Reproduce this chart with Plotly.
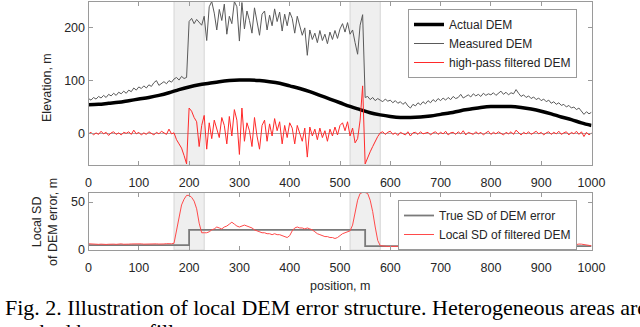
import plotly.graph_objects as go

W, H = 640, 327

# ---------------- data ----------------
x_actual = list(range(0, 1001, 20))
actual_dem = [54, 55, 57, 59, 62, 65, 68, 72, 77, 83, 88, 92, 95, 98, 100, 101, 101, 100, 98, 95,
              90, 85, 79, 72, 65, 58, 51, 45, 39, 35, 32, 30, 30, 31, 33, 36, 39, 43, 46, 49,
              51, 51, 51, 49, 46, 42, 37, 31, 26, 20, 15]

x5 = list(range(0, 1001, 5))
measured_dem = [
    66, 63, 68, 65, 70, 67, 72, 68, 74, 71, 76, 72, 78, 75, 80, 76, 82, 79, 86, 82,
    88, 85, 90, 86, 92, 89, 96, 100, 91, 95, 98, 94, 100, 97, 103, 106, 101, 108, 104, 106,
    212, 218, 208, 216, 211, 205, 222, 176, 240, 250, 228, 196, 235, 214, 245, 188, 222, 208, 250, 240,
    175, 248, 198, 232, 214, 190, 238, 208, 186, 226, 232, 196, 224, 204, 236, 212, 230, 194, 226, 204,
    230, 218, 190, 222, 205, 186, 200, 148, 196, 178, 190, 172, 195, 176, 188, 170, 192, 178, 195, 180,
    198, 208, 192, 210, 188, 196, 172, 150, 205, 225, 68, 70, 64, 68, 62, 66, 63, 60, 65, 61,
    63, 58, 62, 57, 60, 55, 59, 52, 48, 55, 52, 58, 54, 60, 56, 62, 58, 64, 60, 66,
    62, 67, 63, 68, 64, 70, 66, 68, 74, 67, 70, 73, 69, 75, 71, 74, 70, 76, 72, 75,
    73, 77, 72, 76, 80, 74, 78, 73, 77, 75, 83, 76, 70, 73, 68, 71, 66, 69, 64, 67,
    62, 65, 60, 63, 57, 60, 55, 58, 53, 55, 50, 53, 48, 50, 45, 48, 42, 36, 41, 37,
    40]

highpass_dem = [
    -1, 2, -3, 1, -2, 4, -1, 2, -4, 1, 3, -2, 1, -3, 2, 0, 3, -2, 6, -1,
    2, -3, 1, -2, 3, 0, -3, 2, -1, 4, 1, -2, 8, -1, 1, -12, -20, -28, -42, -58,
    48, 42, 30, 22, -25, 15, 34, -30, 20, -10, 25, 10, -8, 30, 15, -20, 32, -5, 45, 25,
    -40, 48, -15, 20, 5, -25, 30, -5, -30, 15, 25, -15, 18, -5, 28, 5, 22, -20, 15, -8,
    20, 10, -20, 15, 0, -15, 10, -45, 12, -5, 8, -12, 10, -8, 5, -15, 8, -5, 12, -3,
    15, 20, 5, 22, -5, 10, -18, -10, 25, 90, -58, -45, -35, -25, -15, -6, 1, 3, -2, 2,
    4, -2, 1, -4, 2, 0, -3, 3, -5, 1, 2, -2, 3, -1, 0, 2, -3, 1, 3, -2,
    2, -1, 4, -3, 1, 2, -2, 3, -1, 5, -3, 2, 0, -2, 3, -1, 2, -3, 1, 4,
    -2, 2, -1, 3, 0, -3, 2, -1, 3, -2, 6, 1, -3, 2, -1, 3, -2, 1, 4, -1,
    2, -3, 1, 3, -2, 2, -1, 4, -2, 1, 3, -3, 2, -1, 4, -2, 3, -6, 2, -3,
    1]

local_sd = [
    6.5, 6.2, 6.0, 5.8, 5.9, 6.1, 5.7, 5.8, 6.0, 6.3, 6.1, 5.9, 6.2, 6.4, 6.0, 5.8, 6.1, 6.3, 6.5, 6.2,
    6.6, 6.4, 6.1, 6.3, 6.0, 6.5, 6.8, 6.4, 6.2, 6.0, 6.3, 6.6, 6.4, 6.5, 7.0, 20, 35, 47, 53, 57,
    57, 55, 51, 43, 28, 18, 18, 18, 19, 21, 22, 24, 23, 22, 24, 25, 27, 29, 27, 25,
    24, 25, 26, 25, 24, 23, 21, 20, 19, 18, 18, 17, 17, 16, 17, 16, 16, 15, 14, 13,
    15, 20, 23, 24, 23, 23, 22, 23, 22, 21, 19, 17, 16, 15, 14, 14, 13, 13, 12, 13,
    15, 17, 18, 19, 20, 26, 38, 52, 59, 60, 60, 59, 52, 40, 24, 10, 4.5, 4.0, 3.8, 3.7,
    3.8, 3.7, 3.9, 4.0, 3.8, 3.6, 3.8, 4.1, 4.3, 4.2, 4.0, 3.8, 3.7, 3.9, 3.8, 3.6, 3.7, 3.9, 4.1, 4.0,
    3.8, 3.7, 3.9, 4.1, 4.2, 4.0, 3.8, 3.6, 3.8, 4.0, 4.3, 4.4, 4.2, 3.9, 3.7, 3.8, 4.0, 4.2, 4.1, 3.9,
    3.8, 3.6, 3.4, 3.5, 3.7, 3.9, 3.8, 3.6, 3.7, 4.0, 4.2, 4.1, 3.9, 3.8, 3.7, 3.9, 4.1, 4.0, 3.8, 3.7,
    3.8, 4.0, 3.9, 3.7, 3.6, 3.8, 4.0, 4.2, 4.1, 3.9, 3.8, 4.1, 4.6, 5.2, 5.8, 6.2, 6.1, 5.6, 5.0, 4.6,
    4.4]

true_sd_x = [0, 200, 550, 1000]
true_sd = [5, 21, 4, 4]

hetero_areas = [(170, 230), (520, 580)]

x_ticks = list(range(0, 1001, 100))

# ---------------- geometry ----------------
def px_x(p):
    return p / W

def px_y(p):
    return (H - p) / H

X_DOM = [px_x(88.5), px_x(591.5)]
Y1_DOM = [px_y(165), px_y(1.5)]
Y2_DOM = [px_y(250), px_y(192.5)]

AX_COL = '#9a9a9a'
TXT_COL = '#262626'
TICK_FONT = dict(family='Liberation Sans, Arial, sans-serif', size=12.5, color=TXT_COL)

fig = go.Figure()
fig.add_trace(go.Scatter(x=x_actual, y=actual_dem, mode='lines', name='Actual DEM',
                         line=dict(color='black', width=3.5, shape='spline'),
                         xaxis='x', yaxis='y', legend='legend'))
fig.add_trace(go.Scatter(x=x5, y=measured_dem, mode='lines', name='Measured DEM',
                         line=dict(color='#5a5a5a', width=1),
                         xaxis='x', yaxis='y', legend='legend'))
fig.add_trace(go.Scatter(x=x5, y=highpass_dem, mode='lines', name='high-pass filtered DEM',
                         line=dict(color='#ff2a2a', width=1),
                         xaxis='x', yaxis='y', legend='legend'))
fig.add_trace(go.Scatter(x=true_sd_x, y=true_sd, mode='lines', name='True SD of DEM error',
                         line=dict(color='#7a7a7a', width=1.8, shape='hv'),
                         xaxis='x2', yaxis='y2', legend='legend2'))
fig.add_trace(go.Scatter(x=x5, y=local_sd, mode='lines', name='Local SD of filtered DEM',
                         line=dict(color='#ff4a4a', width=1),
                         xaxis='x2', yaxis='y2', legend='legend2'))

shapes = []
for (a, b) in hetero_areas:
    for xr, yr in (('x', 'y domain'), ('x2', 'y2 domain')):
        shapes.append(dict(type='rect', xref=xr, yref=yr, x0=a, x1=b, y0=0, y1=1,
                           fillcolor='#efefef', line=dict(color='#d6d6d6', width=1),
                           layer='below'))

axis_common = dict(showline=True, linecolor=AX_COL, linewidth=1, mirror='ticks',
                   ticks='inside', ticklen=4, tickcolor=AX_COL, tickwidth=1,
                   showgrid=False, tickfont=TICK_FONT, automargin=False)

legend_common = dict(bgcolor='white', bordercolor=AX_COL, borderwidth=1,
                     font=dict(family='Liberation Sans, Arial, sans-serif', size=12, color=TXT_COL),
                     xanchor='right', yanchor='top', tracegroupgap=0, itemwidth=30)

fig.update_layout(
    width=W, height=H,
    margin=dict(l=0, r=0, t=0, b=0, pad=0, autoexpand=False),
    paper_bgcolor='white', plot_bgcolor='white',
    showlegend=True,
    xaxis=dict(domain=X_DOM, range=[0, 1000], tickvals=x_ticks, anchor='y',
               zeroline=False, ticklabelstandoff=6, **axis_common),
    yaxis=dict(domain=Y1_DOM, range=[-60, 250], tickvals=[0, 100, 200], anchor='x',
               zeroline=True, zerolinecolor='#a8a8a8', zerolinewidth=1, **axis_common),
    xaxis2=dict(domain=X_DOM, range=[0, 1000], tickvals=x_ticks, anchor='y2',
                zeroline=False, ticklabelstandoff=6, **axis_common),
    yaxis2=dict(domain=Y2_DOM, range=[0, 60], tickvals=[0, 50], anchor='x2',
                zeroline=False, **axis_common),
    legend=dict(x=px_x(577), y=px_y(9), **legend_common),
    legend2=dict(x=px_x(577), y=px_y(200), **legend_common),
    shapes=shapes,
)

ann_font = dict(family='Liberation Sans, Arial, sans-serif', size=12.5, color=TXT_COL)
cap_font = dict(family='Liberation Serif, Times New Roman, serif', size=22, color='black')
fig.add_annotation(text='Elevation, m', x=px_x(47), y=px_y(88), xref='paper', yref='paper',
                   textangle=-90, showarrow=False, font=ann_font, xanchor='center', yanchor='middle')
fig.add_annotation(text='Local SD<br>of DEM error, m', x=px_x(45), y=px_y(222), xref='paper', yref='paper',
                   textangle=-90, showarrow=False, font=ann_font, xanchor='center', yanchor='middle')
fig.add_annotation(text='position, m', x=px_x(340), y=px_y(286), xref='paper', yref='paper',
                   showarrow=False, font=ann_font, xanchor='center', yanchor='middle')
fig.add_annotation(text='Fig. 2. Illustration of local DEM error structure. Heterogeneous areas are',
                   x=px_x(3), y=px_y(307), xref='paper', yref='paper', showarrow=False,
                   font=cap_font, xanchor='left', yanchor='middle')
fig.add_annotation(text='marked by grey fill.',
                   x=px_x(3), y=px_y(331), xref='paper', yref='paper', showarrow=False,
                   font=cap_font, xanchor='left', yanchor='middle')

fig.write_html('out.html', config={'displayModeBar': False},
               post_script="document.body.style.margin='0px';document.body.style.overflow='hidden';")
